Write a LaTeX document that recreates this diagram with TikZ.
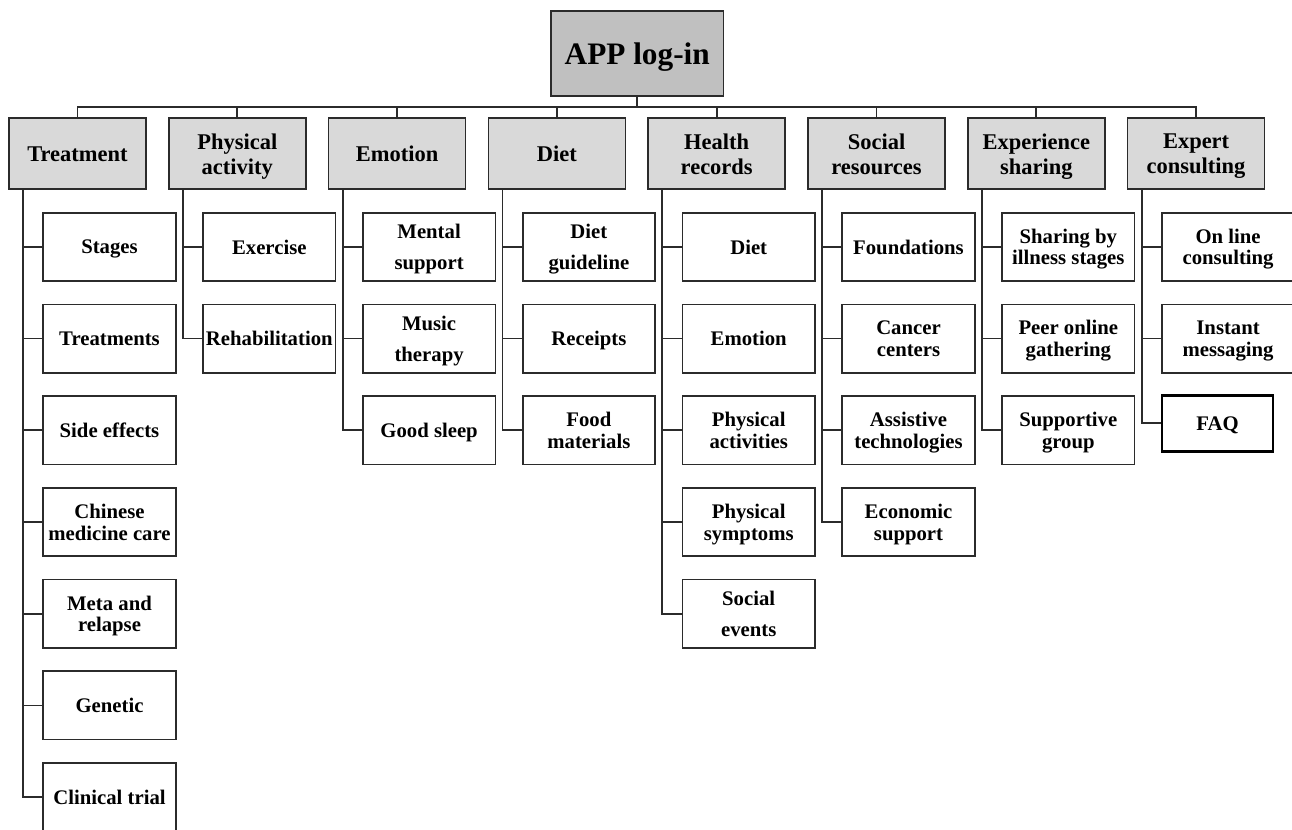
\documentclass[tikz,border=0pt]{standalone}
\usepackage{fontspec}
\setmainfont{Liberation Serif}
\usetikzlibrary{calc}
\definecolor{rootgray}{HTML}{C0C0C0}
\definecolor{topicgray}{HTML}{D9D9D9}
\definecolor{linegray}{HTML}{2B2B2B}

\begin{document}
\begin{tikzpicture}[x=0.02cm,y=-0.02cm,
    rootbox/.style={draw=linegray,line width=0.95pt,fill=rootgray,align=center,inner sep=0pt,
      text depth=0pt,minimum width=3.45cm,minimum height=1.7cm,
      font=\fontsize{17.8}{20}\selectfont\bfseries},
    topic/.style={draw=linegray,line width=0.95pt,fill=topicgray,align=center,inner sep=0pt,
      text depth=0pt,minimum width=2.74cm,minimum height=1.42cm,
      font=\fontsize{12.8}{14.2}\selectfont\bfseries},
    item/.style={draw=linegray,line width=0.95pt,fill=white,align=center,inner sep=0pt,
      text depth=0pt,minimum width=2.65cm,minimum height=1.366cm,
      font=\fontsize{11.8}{12.35}\selectfont\bfseries},
    loose/.style={item,font=\fontsize{11.8}{17.5}\selectfont\bfseries},
    faqbox/.style={item,draw=black,line width=1.4pt,minimum width=2.23cm,minimum height=1.12cm},
    link/.style={draw=linegray,line width=0.95pt}]
  \useasboundingbox (0,0) rectangle (1292,830);

  % root and first level
  \node[rootbox] at (637.2,53.5) (root) {APP log-in};
  \coordinate (bus) at (637.2,107.3);
  \node[topic] at (77.5,153.8)   (treat)  {Treatment};
  \node[topic] at (237.3,153.8)  (phys)   {Physical\\activity};
  \node[topic] at (397.1,153.8)  (emo)    {Emotion};
  \node[topic] at (556.9,153.8)  (diet)   {Diet};
  \node[topic] at (716.7,153.8)  (health) {Health\\records};
  \node[topic] at (876.5,153.8)  (social) {Social\\resources};
  \node[topic] at (1036.3,153.8) (exper)  {Experience\\sharing};
  \node[topic] at (1196.1,153.8) (expert) {Expert\\consulting};

  % treatment
  \node[item] at (109.5,246.9) (stages)   {Stages};
  \node[item] at (109.5,338.6) (treats)   {Treatments};
  \node[item] at (109.5,430.3) (sideeff)  {Side effects};
  \node[item] at (109.5,522.0) (chinmed)  {Chinese\\medicine care};
  \node[item] at (109.5,613.7) (meta)     {Meta and\\relapse};
  \node[item] at (109.5,705.4) (genetic)  {Genetic};
  \node[item] at (109.5,797.1) (clinical) {Clinical trial};
  % physical activity
  \node[item] at (269.3,246.9) (exercise) {Exercise};
  \node[item] at (269.3,338.6) (rehab)    {Rehabilitation};
  % emotion
  \node[loose] at (429.1,246.9) (mental) {Mental\\support};
  \node[loose] at (429.1,338.6) (music)  {Music\\therapy};
  \node[item]  at (429.1,430.3) (sleep)  {Good sleep};
  % diet
  \node[loose] at (588.9,246.9) (dietguide) {Diet\\guideline};
  \node[item]  at (588.9,338.6) (receipts)  {Receipts};
  \node[item]  at (588.9,430.3) (food)      {Food\\materials};
  % health records
  \node[item]  at (748.7,246.9) (hdiet)    {Diet};
  \node[item]  at (748.7,338.6) (hemotion) {Emotion};
  \node[item]  at (748.7,430.3) (hphys)    {Physical\\activities};
  \node[item]  at (748.7,522.0) (hsympt)   {Physical\\symptoms};
  \node[loose] at (748.7,613.7) (hsocial)  {Social\\events};
  % social resources
  \node[item] at (908.5,246.9) (found)  {Foundations};
  \node[item] at (908.5,338.6) (cancer) {Cancer\\centers};
  \node[item] at (908.5,430.3) (assist) {Assistive\\technologies};
  \node[item] at (908.5,522.0) (econ)   {Economic\\support};
  % experience sharing
  \node[item] at (1068.3,246.9) (sharing) {Sharing by\\illness stages};
  \node[item] at (1068.3,338.6) (peer)    {Peer online\\gathering};
  \node[item] at (1068.3,430.3) (support) {Supportive\\group};
  % expert consulting
  \node[item]   at (1228.1,246.9) (online)  {On line\\consulting};
  \node[item]   at (1228.1,338.6) (instant) {Instant\\messaging};
  \node[faqbox] at (1217.5,423.3) (faq)     {FAQ};

  % connectors
  \path[link] (root.south) -- (bus);
  \foreach \t in {treat,phys,emo,diet,health,social,exper,expert}
    \path[link] (bus) -| (\t.north);
  \foreach \t/\c in {treat/stages,treat/treats,treat/sideeff,treat/chinmed,treat/meta,
      treat/genetic,treat/clinical,phys/exercise,phys/rehab,emo/mental,emo/music,emo/sleep,
      diet/dietguide,diet/receipts,diet/food,health/hdiet,health/hemotion,health/hphys,
      health/hsympt,health/hsocial,social/found,social/cancer,social/assist,social/econ,
      exper/sharing,exper/peer,exper/support,expert/online,expert/instant,expert/faq}
    \path[link] ($(\t.south)+(-54.4,0)$) |- (\c.west);
\end{tikzpicture}
\end{document}
